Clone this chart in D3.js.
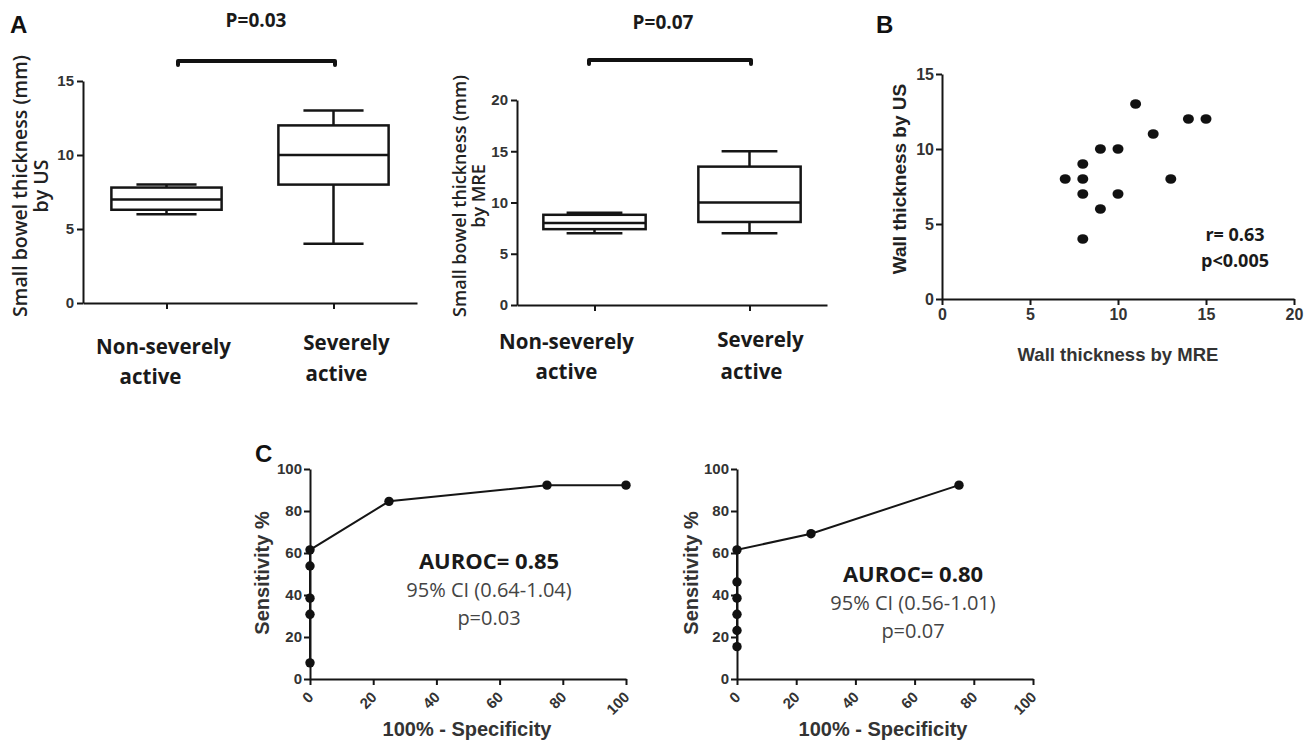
<!DOCTYPE html>
<html>
<head>
<meta charset="utf-8">
<script src="https://cdn.jsdelivr.net/npm/d3@7"></script>
<style>
  body { margin: 0; background: #fff; }
  svg { display: block; }
</style>
</head>
<body>
<svg id="fig" width="1315" height="743"></svg>
<script>
// ---- data ----
const groups = ['Non-severely active', 'Severely active'];
const groupLines = [['Non-severely', 'active'], ['Severely', 'active']];

// box stats [min, q1, median, q3, max]
const usBoxes = [[6, 6.3, 7, 7.8, 8], [4, 8, 10, 12, 13]];
const mreBoxes = [[7, 7.4, 8, 8.8, 9], [7, 8.1, 10, 13.5, 15]];
const usTicks = [0, 5, 10, 15];
const mreTicks = [0, 5, 10, 15, 20];
const pValues = ['P=0.03', 'P=0.07'];

// scatter: wall thickness MRE vs US
const wallMre = [7, 8, 8, 8, 8, 9, 9, 10, 10, 11, 12, 13, 14, 15];
const wallUs = [8, 9, 8, 7, 4, 10, 6, 10, 7, 13, 11, 8, 12, 12];
const scatterXTicks = [0, 5, 10, 15, 20];
const scatterYTicks = [0, 5, 10, 15];
const corrText = ['r= 0.63', 'p<0.005'];

// ROC curves
const rocUsX = [0, 0, 0, 0, 0, 25, 75, 100];
const rocUsY = [7.7, 30.8, 38.5, 53.8, 61.5, 84.6, 92.3, 92.3];
const rocMreX = [0, 0, 0, 0, 0, 0, 25, 75];
const rocMreY = [15.4, 23.1, 30.8, 38.5, 46.2, 61.5, 69.2, 92.3];
const rocTicks = [0, 20, 40, 60, 80, 100];
const rocText = [
    ['AUROC= 0.85', '95% CI (0.64-1.04)', 'p=0.03'],
    ['AUROC= 0.80', '95% CI (0.56-1.01)', 'p=0.07']
];

const svg = d3.select('#fig');
const ink = '#151515';
const boldSans = 'Arial, "Liberation Sans", sans-serif';
const openSans = '"Open Sans", sans-serif';

function styleAxis(g, size) {
    g.select('.domain').attr('stroke', ink).attr('stroke-width', 2);
    g.selectAll('.tick line').attr('stroke', ink).attr('stroke-width', 2);
    g.selectAll('.tick text')
        .style('font-family', boldSans)
        .style('font-weight', 'bold')
        .style('font-size', size + 'px')
        .attr('fill', '#333');
}

// ---- Panel A: box plots ----
function boxPanel(o) {
    const x = d3.scalePoint().domain(groups).range([o.x0, o.x1]).padding(0.5);
    const y = d3.scaleLinear().domain([0, o.yMax]).range([o.y0, o.y1]);
    const g = svg.append('g');

    g.append('g').attr('transform', `translate(${o.x0},0)`)
        .call(d3.axisLeft(y).tickValues(o.ticks).tickSize(6).tickSizeOuter(0).tickPadding(3))
        .call(styleAxis, 15);
    g.append('g').attr('transform', `translate(0,${o.y0})`)
        .call(d3.axisBottom(x).tickSize(6).tickSizeOuter(0).tickFormat(''))
        .call(styleAxis, 15);

    const bw = x.step() * 0.66;
    const cw = x.step() * 0.36;
    o.boxes.forEach((b, i) => {
        const cx = x(groups[i]);
        const bg = g.append('g').attr('stroke', ink).attr('stroke-width', 2.5).attr('fill', 'none');
        bg.append('line').attr('x1', cx).attr('x2', cx).attr('y1', y(b[0])).attr('y2', y(b[1]));
        bg.append('line').attr('x1', cx).attr('x2', cx).attr('y1', y(b[3])).attr('y2', y(b[4]));
        bg.append('line').attr('x1', cx - cw / 2).attr('x2', cx + cw / 2).attr('y1', y(b[0])).attr('y2', y(b[0]));
        bg.append('line').attr('x1', cx - cw / 2).attr('x2', cx + cw / 2).attr('y1', y(b[4])).attr('y2', y(b[4]));
        bg.append('rect').attr('x', cx - bw / 2).attr('width', bw)
            .attr('y', y(b[3])).attr('height', y(b[1]) - y(b[3])).attr('fill', '#fff');
        bg.append('line').attr('x1', cx - bw / 2).attr('x2', cx + bw / 2).attr('y1', y(b[2])).attr('y2', y(b[2]));
    });

    // group labels
    groupLines.forEach((lines, i) => {
        lines.forEach((t, j) => {
            g.append('text')
                .attr('x', x(groups[i]) + o.labelShift[i][j])
                .attr('y', o.labelY[i][j])
                .attr('text-anchor', 'middle')
                .attr('font-family', openSans).attr('font-weight', 700)
                .attr('font-size', 20.5).attr('fill', '#1a1a1a')
                .text(t);
        });
    });

    // y title, two lines
    const yt = g.append('text')
        .attr('transform', `translate(${o.titleX},${o.titleY}) rotate(-90)`)
        .attr('text-anchor', 'middle')
        .attr('font-family', openSans).attr('font-weight', 600)
        .attr('font-size', o.titleSize).attr('fill', '#222');
    o.title.forEach((t, j) => yt.append('tspan').attr('x', 0).attr('y', j * o.titleGap).text(t));

    // significance bracket
    g.append('path')
        .attr('d', `M${o.br[0]},${o.brY + 4}V${o.brY}H${o.br[1]}V${o.brY + 4}`)
        .attr('fill', 'none').attr('stroke', '#111').attr('stroke-width', 4)
        .attr('stroke-linejoin', 'round').attr('stroke-linecap', 'round');
    g.append('text')
        .attr('x', o.pX).attr('y', o.pY)
        .attr('text-anchor', 'middle')
        .attr('font-family', openSans).attr('font-weight', 700)
        .attr('font-size', 19).attr('fill', '#1a1a1a')
        .text(o.p);
}

boxPanel({
    x0: 83, x1: 417, y0: 303, y1: 81, yMax: 15, ticks: usTicks, boxes: usBoxes,
    labelShift: [[-3, -16], [13, 3]], labelY: [[354, 384], [350, 381]],
    title: ['Small bowel thickness (mm)', 'by US'], titleX: 27, titleY: 186, titleSize: 19.5, titleGap: 21,
    br: [178, 335], brY: 61, p: pValues[0], pX: 256, pY: 27
});
boxPanel({
    x0: 517, x1: 827, y0: 305, y1: 100, yMax: 20, ticks: mreTicks, boxes: mreBoxes,
    labelShift: [[-28, -28], [11, 2]], labelY: [[349, 379], [347, 379]],
    title: ['Small bowel thickness (mm)', 'by MRE'], titleX: 466, titleY: 196, titleSize: 18, titleGap: 19,
    br: [589, 751], brY: 60, p: pValues[1], pX: 663, pY: 29
});

// ---- Panel B: scatter ----
(function() {
    const x = d3.scaleLinear().domain([0, 20]).range([942, 1294]);
    const y = d3.scaleLinear().domain([0, 15]).range([299, 74]);
    const g = svg.append('g');
    g.append('g').attr('transform', 'translate(942,0)')
        .call(d3.axisLeft(y).tickValues(scatterYTicks).tickSize(6).tickSizeOuter(0).tickPadding(2))
        .call(styleAxis, 16);
    g.append('g').attr('transform', 'translate(0,299)')
        .call(d3.axisBottom(x).tickValues(scatterXTicks).tickSize(6).tickSizeOuter(0).tickPadding(4))
        .call(styleAxis, 16);

    g.selectAll('ellipse.pt').data(wallMre).enter().append('ellipse')
        .attr('class', 'pt')
        .attr('cx', (d) => x(d))
        .attr('cy', (d, i) => y(wallUs[i]))
        .attr('rx', 5.5).attr('ry', 4.8)
        .attr('fill', '#111');

    g.append('text')
        .attr('transform', 'translate(906,179) rotate(-90)')
        .attr('text-anchor', 'middle')
        .attr('font-family', boldSans).attr('font-weight', 'bold')
        .attr('font-size', 19).attr('fill', '#222')
        .text('Wall thickness by US');
    g.append('text')
        .attr('x', 1118).attr('y', 361)
        .attr('text-anchor', 'middle')
        .attr('font-family', boldSans).attr('font-weight', 'bold')
        .attr('font-size', 18.5).attr('fill', '#333')
        .text('Wall thickness by MRE');
    corrText.forEach((t, i) => {
        g.append('text')
            .attr('x', 1235).attr('y', 241 + i * 26)
            .attr('text-anchor', 'middle')
            .attr('font-family', openSans).attr('font-weight', 700)
            .attr('font-size', 18).attr('fill', '#1a1a1a')
            .text(t);
    });
})();

// ---- Panel C: ROC curves ----
function rocPanel(o) {
    const x = d3.scaleLinear().domain([0, 100]).range([o.x0, o.x1]);
    const y = d3.scaleLinear().domain([0, 100]).range([679, 469]);
    const g = svg.append('g');
    g.append('g').attr('transform', `translate(${o.x0},0)`)
        .call(d3.axisLeft(y).tickValues(rocTicks).tickSize(6).tickSizeOuter(0).tickPadding(2))
        .call(styleAxis, 15);
    g.append('g').attr('transform', 'translate(0,679)')
        .call(d3.axisBottom(x).tickValues(rocTicks).tickSize(6).tickSizeOuter(0))
        .call(styleAxis, 15)
        .selectAll('.tick text')
        .attr('x', 0).attr('y', 0).attr('dy', 0)
        .attr('text-anchor', 'end')
        .attr('transform', 'translate(4,19) rotate(-45)');

    const pts = o.xs.map((d, i) => [d, o.ys[i]]);
    g.append('path')
        .attr('d', d3.line().x((d) => x(d[0])).y((d) => y(d[1]))(pts))
        .attr('fill', 'none').attr('stroke', ink).attr('stroke-width', 2);
    g.selectAll('circle.pt').data(pts).enter().append('circle')
        .attr('class', 'pt')
        .attr('cx', (d) => x(d[0])).attr('cy', (d) => y(d[1]))
        .attr('r', 4.7).attr('fill', '#111');

    g.append('text')
        .attr('transform', `translate(${o.titleX},573) rotate(-90)`)
        .attr('text-anchor', 'middle')
        .attr('font-family', boldSans).attr('font-weight', 'bold')
        .attr('font-size', 20).attr('fill', '#333')
        .text('Sensitivity %');
    g.append('text')
        .attr('x', o.xTitle).attr('y', 736)
        .attr('text-anchor', 'middle')
        .attr('font-family', boldSans).attr('font-weight', 'bold')
        .attr('font-size', 20).attr('fill', '#333')
        .text('100% - Specificity');

    o.text.forEach((t, i) => {
        g.append('text')
            .attr('x', o.tx).attr('y', o.ty + i * 28)
            .attr('text-anchor', 'middle')
            .attr('font-family', openSans)
            .attr('font-weight', i === 0 ? 700 : 400)
            .attr('font-size', i === 0 ? 22 : 20)
            .attr('fill', i === 0 ? '#1a1a1a' : '#444')
            .text(t);
    });
}

rocPanel({ x0: 310, x1: 626, xs: rocUsX, ys: rocUsY, text: rocText[0],
    tx: 489, ty: 569, titleX: 269, xTitle: 467 });
rocPanel({ x0: 737, x1: 1033, xs: rocMreX, ys: rocMreY, text: rocText[1],
    tx: 913, ty: 582, titleX: 698, xTitle: 883 });

// panel letters
[['A', 10, 33], ['B', 876, 33], ['C', 255, 462]].forEach((d) => {
    svg.append('text').attr('x', d[1]).attr('y', d[2])
        .attr('font-family', boldSans).attr('font-weight', 'bold')
        .attr('font-size', 24).attr('fill', '#111')
        .text(d[0]);
});
</script>
</body>
</html>
